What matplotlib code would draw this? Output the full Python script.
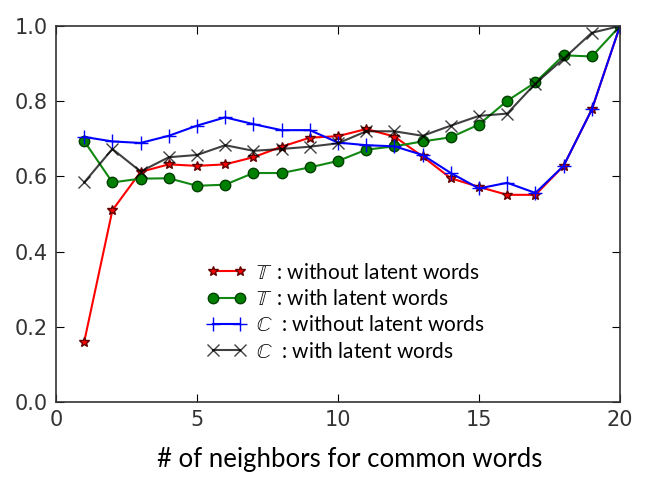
import matplotlib
matplotlib.use('Agg')
import matplotlib.pyplot as plt

# number of neighbors
x = list(range(1, 21))

t_without = [0.16, 0.51, 0.612, 0.632, 0.628, 0.632, 0.651, 0.679, 0.703, 0.707,
             0.726, 0.706, 0.653, 0.595, 0.572, 0.551, 0.551, 0.628, 0.778, 1.0]
t_with = [0.694, 0.584, 0.594, 0.595, 0.575, 0.578, 0.609, 0.609, 0.624, 0.641,
          0.671, 0.680, 0.693, 0.704, 0.738, 0.801, 0.850, 0.922, 0.919, 1.0]
c_without = [0.705, 0.693, 0.689, 0.708, 0.735, 0.757, 0.739, 0.723, 0.723, 0.690,
             0.683, 0.680, 0.657, 0.609, 0.568, 0.583, 0.556, 0.628, 0.778, 1.0]
c_with = [0.584, 0.673, 0.613, 0.651, 0.657, 0.683, 0.668, 0.673, 0.679, 0.688,
          0.720, 0.720, 0.708, 0.735, 0.761, 0.767, 0.847, 0.913, 0.982, 1.0]

labels = [r'$\mathbb{T}$  : without latent words',
          r'$\mathbb{T}$  : with latent words',
          r'$\mathbb{C}$  : without latent words',
          r'$\mathbb{C}$  : with latent words']

plt.rcParams['mathtext.fontset'] = 'stix'

fig = plt.figure(figsize=(6.47, 4.84), dpi=100)
ax = fig.add_axes([56/647, 82/484, 564/647, 376/484])

ax.plot(x, t_without, 'r-', marker='*', markersize=7.5, markeredgecolor='#600000', label=labels[0])
ax.plot(x, t_with, '-', color='#118811', marker='o', markersize=7.5, markerfacecolor='green',
        markeredgecolor='#004000', label=labels[1])
ax.plot(x, c_without, 'b-', marker='+', markersize=10, markeredgewidth=1, label=labels[2])
ax.plot(x, c_with, 'k-', marker='x', markersize=9, markeredgewidth=1, alpha=0.75, label=labels[3])

ax.set_xlim(0, 20)
ax.set_ylim(0, 1.0)
ax.set_xticks([0, 5, 10, 15, 20])
ax.set_yticks([0.0, 0.2, 0.4, 0.6, 0.8, 1.0])
ax.tick_params(direction='in', length=6, labelsize=15, top=True, right=True, pad=6,
               labelcolor='#333333')
for s in ax.spines.values():
    s.set_linewidth(1.2)
    s.set_color('#333333')

ax.set_xlabel('# of neighbors for common words', fontsize=18.5, family='Lato')
ax.xaxis.set_label_coords(0.521, -0.12)

ax.legend(loc='center', bbox_to_anchor=(0.514, 0.239), frameon=False, numpoints=2,
          prop={'family': 'Lato', 'size': 15}, handlelength=1.9,
          labelspacing=0.3, handletextpad=0.5)

fig.savefig('out.png', dpi=100)
